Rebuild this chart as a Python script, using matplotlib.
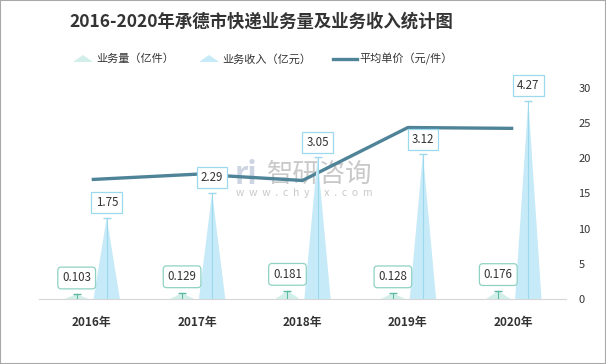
import numpy as np
import matplotlib
matplotlib.use('Agg')
import matplotlib.pyplot as plt
from matplotlib.patches import Polygon, Rectangle
from matplotlib.lines import Line2D

plt.rcParams['font.family'] = ['Noto Sans CJK SC', 'DejaVu Sans']

# data
years = ['2016年', '2017年', '2018年', '2019年', '2020年']
volume = [0.103, 0.129, 0.181, 0.128, 0.176]      # 亿件
revenue = [1.75, 2.29, 3.05, 3.12, 4.27]          # 亿元
price = [16.99, 17.75, 16.85, 24.38, 24.26]       # 元/件
price_ticks = [0, 5, 10, 15, 20, 25, 30]

# colours
c_line = '#4f8398'
c_rev = '#c6eaf7'
c_rev_edge = '#9dd9ee'
c_vol = '#d2eee8'
c_vol_edge = '#5cbaa5'
c_vol_box = '#8fd2c3'

W, H = 606, 364
fig = plt.figure(figsize=(W / 100, H / 100), dpi=100)

ax = fig.add_axes([39 / W, 1 - 299 / H, (566 - 39) / W, (299 - 88) / H])
ax2 = ax.twinx()

x = np.arange(len(years))
off = 0.1425
hw_rev = 0.125
hw_vol = 0.115

# line on the price axis (drawn under the bars axis)
ax.plot(x, price, color=c_line, lw=2.4, solid_capstyle='butt', zorder=3)
ax.set_ylim(0, 30)
ax.set_xlim(-0.5, len(years) - 0.5)
ax.yaxis.tick_right()
ax.set_yticks(price_ticks)
ax.tick_params(axis='y', length=0, pad=9, labelsize=8, labelcolor='#333333')
ax.set_xticks(x)
ax.set_xticklabels(years, fontsize=8.5, fontweight='bold', color='#333333')
ax.tick_params(axis='x', length=0, pad=12)
for s in ['top', 'left', 'right']:
    ax.spines[s].set_visible(False)
ax.spines['bottom'].set_color('#d6d6d6')

# watermark
ax.text(2.16, 17.7, '智研咨询', fontsize=19, color='#c9c9c9',
        ha='center', va='center', zorder=1)
ax.text(2.02, 15.0, 'w  w  w  .  c  h  y  x  x  .  c  o  m', fontsize=7.5,
        color='#c9c9c9', ha='center', va='center', zorder=1)
ax.text(1.46, 17.7, 'ri', fontsize=22, fontweight='bold', color='#cdd5e3',
        ha='center', va='center', zorder=1)

# triangles on the hidden axis
ax2.set_ylim(0, 4.54)
ax2.set_axis_off()
for i in range(len(years)):
    xv = x[i] - off
    xr = x[i] + off
    # volume
    ax2.add_patch(Polygon([[xv - hw_vol, 0], [xv, volume[i]], [xv + hw_vol, 0]],
                          closed=True, facecolor=c_vol, edgecolor='none', zorder=2))
    ax2.plot([xv, xv], [0, volume[i]], color=c_vol_edge, lw=0.8, zorder=3)
    ax2.plot([xv], [volume[i]], marker='_', ms=6, mew=1, color=c_vol_edge, zorder=3)
    ax2.annotate(f'{volume[i]:g}', (xv, volume[i]), xytext=(0, 7),
                 textcoords='offset points', ha='center', va='bottom',
                 fontsize=8.3, color='#333333', zorder=5,
                 bbox=dict(boxstyle='round,pad=0.38,rounding_size=0.3',
                           fc='white', ec=c_vol_box, lw=0.9))
    # revenue
    ax2.add_patch(Polygon([[xr - hw_rev, 0], [xr, revenue[i]], [xr + hw_rev, 0]],
                          closed=True, facecolor=c_rev, edgecolor='none', zorder=2))
    ax2.plot([xr, xr], [0, revenue[i]], color=c_rev_edge, lw=0.8, zorder=3)
    ax2.plot([xr], [revenue[i]], marker='_', ms=6, mew=1, color=c_rev_edge, zorder=3)
    ax2.annotate(f'{revenue[i]:.2f}', (xr, revenue[i]), xytext=(0, 6),
                 textcoords='offset points', ha='center', va='bottom',
                 fontsize=8.3, color='#333333', zorder=5,
                 bbox=dict(boxstyle='square,pad=0.35', fc='white',
                           ec=c_rev_edge, lw=0.9))


def fx(px):
    return px / W


def fy(py):
    return 1 - py / H


# title
fig.text(fx(261), fy(22), '2016-2020年承德市快递业务量及业务收入统计图',
         ha='center', va='center', fontsize=12.5, fontweight='bold', color='#333333')

# legend
ly = 59
for x0, c, label in [(73, c_vol, '业务量（亿件）'), (199, c_rev, '业务收入（亿元）')]:
    fig.add_artist(Polygon([[fx(x0), fy(ly + 3)], [fx(x0 + 10), fy(ly - 4)],
                            [fx(x0 + 20), fy(ly + 3)]], closed=True,
                           facecolor=c, edgecolor='none', transform=fig.transFigure))
    fig.text(fx(x0 + 23), fy(ly), label, ha='left', va='center',
             fontsize=8, color='#333333')
fig.add_artist(Line2D([fx(333), fx(357)], [fy(ly), fy(ly)], color=c_line, lw=2.4,
                      transform=fig.transFigure))
fig.text(fx(359), fy(ly), '平均单价（元/件）', ha='left', va='center',
         fontsize=8, color='#333333')

# outer border
fig.add_artist(Rectangle((0, 0), 1, 1, transform=fig.transFigure, fill=False,
                         ec='#a8a8a8', lw=1.5))

fig.savefig('out.png', dpi=100)
